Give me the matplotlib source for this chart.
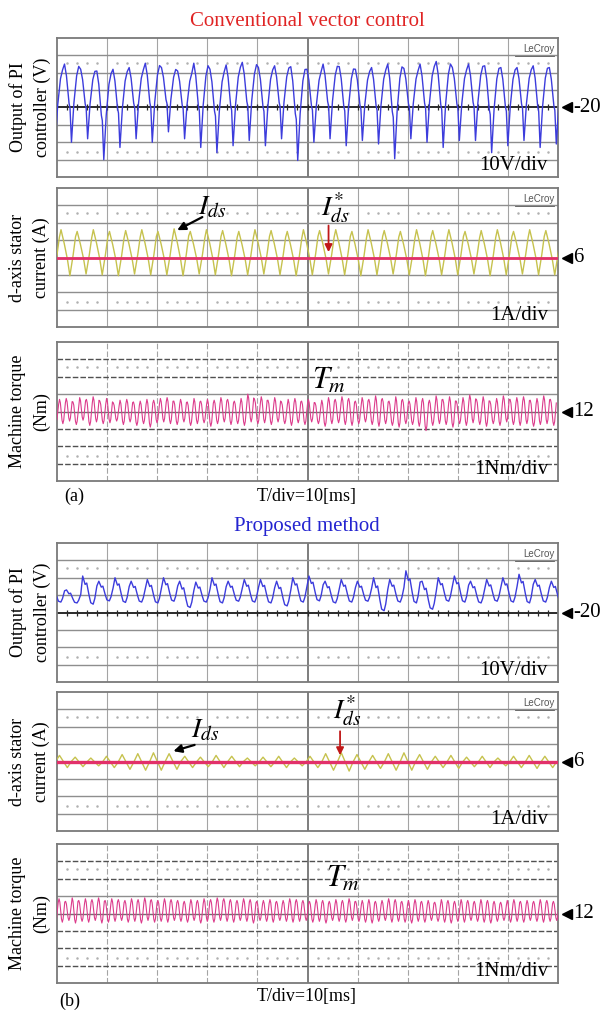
import numpy as np
import matplotlib.pyplot as plt

plt.rcParams['font.family'] = ['Liberation Serif', 'DejaVu Serif']
plt.rcParams['mathtext.fontset'] = 'stix'

# ---- data, in scope divisions (first entry of each list is the cycle just before the screen) ----
# (a) conventional vector control
pi_conv_peak = [2.3, 2.5, 2.2, 2.1, 2.2, 2.3, 2.55, 2.3, 2.1, 2.55, 2.2, 2.45, 2.6, 2.3, 2.4, 2.35,
                2.2, 2.5, 2.35, 2.2, 2.3, 2.5, 2.25, 2.5, 2.65, 2.3, 2.5, 2.4, 2.3, 2.3, 2.4, 2.3]
pi_conv_trough = [-2.0, -2.0, -1.8, -3.0, -2.3, -1.8, -2.0, -1.4, -1.8, -2.3, -2.6, -2.2, -1.9, -2.2, -1.8, -3.05,
                  -2.0, -1.8, -2.2, -1.9, -2.1, -2.95, -1.8, -2.0, -2.3, -1.9, -1.9, -2.6, -2.2, -1.9, -2.3, -2.1]
ids_conv_peak = [1.55, 1.6, 1.5, 1.6, 1.5, 1.55, 1.6, 1.5, 1.65, 1.5, 1.6, 1.55, 1.5, 1.6, 1.55, 1.5,
                 1.6, 1.55, 1.6, 1.5, 1.6, 1.55, 1.5, 1.6, 1.55, 1.6, 1.5, 1.55, 1.6, 1.5, 1.6, 1.55]
ids_conv_trough = [-1.0, -1.05, -0.95, -1.0, -1.05, -0.95, -1.0, -1.0, -1.05, -0.95, -1.0, -1.05, -1.0, -0.95, -1.0, -1.05,
                   -1.0, -0.95, -1.0, -1.05, -1.0, -0.95, -1.0, -1.05, -1.0, -1.0, -0.95, -1.05, -1.0, -0.95, -1.0, -1.0]
tm_conv_peak = [0.6, 0.7, 0.75, 0.55, 0.8, 0.7, 0.85, 0.6, 0.75, 0.5, 0.65, 0.7, 0.55, 0.6, 0.7, 0.65,
                0.75, 0.8, 0.6, 0.7, 0.55, 0.75, 0.6, 0.7, 0.65, 0.8, 0.7, 0.6, 0.75, 1.0, 0.7, 0.85,
                0.65, 0.8, 0.55, 0.7, 0.75, 0.6, 0.7, 0.5, 0.65, 0.8, 0.7, 0.85, 0.75, 0.6, 0.8, 0.7,
                0.9, 0.75, 0.6, 0.85, 0.7, 0.6, 0.8, 0.75, 0.65, 0.9, 0.7, 0.85, 0.6, 0.8, 0.95, 0.7,
                0.85, 0.6, 0.75, 0.9, 0.7, 0.8, 0.85, 0.65, 0.75, 0.9, 0.7]
tm_conv_trough = [-0.6, -0.7, -0.55, -0.75, -0.5, -0.8, -0.6, -0.7, -0.65, -0.55, -0.75, -0.6, -0.8, -0.7, -0.9, -0.65,
                  -0.6, -0.7, -0.75, -0.6, -0.8, -0.7, -0.65, -0.85, -0.7, -0.6, -0.75, -0.7, -0.8, -0.6, -0.7, -0.65,
                  -0.75, -0.6, -0.7, -0.8, -0.65, -0.75, -0.6, -0.7, -0.85, -0.7, -0.65, -0.75, -0.8, -0.7, -0.6, -0.75,
                  -0.85, -0.7, -0.8, -0.9, -0.7, -0.75, -0.85, -1.1, -0.8, -0.7, -0.75, -0.9, -0.7, -0.8, -0.65, -0.75,
                  -0.85, -0.7, -0.8, -0.6, -0.75, -0.8, -0.7, -0.85, -0.75, -0.7, -0.8]

# (b) proposed method
pi_prop_peak = [1.6, 1.3, 2.1, 1.8, 2.0, 1.8, 1.9, 2.0, 1.8, 1.75, 2.0, 1.8, 1.9, 1.9, 1.8, 2.0,
                2.1, 1.8, 1.9, 1.8, 2.0, 1.9, 2.4, 1.8, 2.0, 2.1, 1.8, 1.9, 2.0, 2.2, 1.9, 1.8]
pi_prop_trough = [0.6, 0.55, 0.48, 0.67, 0.58, 0.6, 0.55, 0.65, 0.29, 0.6, 0.55, 0.65, 0.6, 0.55, 0.38, 0.6,
                  0.67, 0.55, 0.6, 0.65, 0.1, 0.6, 0.55, 0.19, 0.65, 0.6, 0.55, 0.65, 0.6, 0.55, 0.6, 0.6]
ids_prop_peak = [0.3, 0.35, 0.25, 0.2, 0.3, 0.4, 0.45, 0.5, 0.45, 0.3, 0.25, 0.35, 0.3, 0.2, 0.25, 0.3,
                 0.2, 0.3, 0.45, 0.5, 0.4, 0.35, 0.45, 0.5, 0.4, 0.3, 0.35, 0.25, 0.3, 0.2, 0.3, 0.35, 0.3]
ids_prop_trough = [-0.3, -0.35, -0.3, -0.25, -0.35, -0.45, -0.5, -0.5, -0.45, -0.35, -0.3, -0.35, -0.3, -0.25, -0.3, -0.35,
                   -0.25, -0.35, -0.5, -0.55, -0.45, -0.4, -0.5, -0.5, -0.45, -0.35, -0.4, -0.3, -0.35, -0.25, -0.35, -0.4, -0.35]
tm_prop_peak = [0.8, 0.85, 0.7, 0.9, 0.75, 0.85, 0.8, 0.9, 0.75, 0.85, 0.8, 0.75, 0.85, 0.8, 0.9, 0.8,
                0.75, 0.85, 0.8, 0.75, 0.7, 0.8, 0.75, 0.85, 0.8, 0.9, 0.85, 0.8, 0.75, 0.85, 0.8, 0.7,
                0.75, 0.8, 0.7, 0.75, 0.85, 0.8, 0.75, 0.7, 0.8, 0.75, 0.7, 0.8, 0.75, 0.85, 0.7, 0.75,
                0.8, 0.7, 0.75, 0.85, 0.8, 0.7, 0.75, 0.8, 0.7, 0.75, 0.65, 0.8, 0.75, 0.7, 0.8, 0.75,
                0.7, 0.8, 0.75, 0.7, 0.65, 0.75, 0.8, 0.7, 0.75, 0.7, 0.8, 0.75, 0.7]
tm_prop_trough = [-0.45, -0.5, -0.4, -0.55, -0.45, -0.5, -0.4, -0.55, -0.5, -0.45, -0.4, -0.5, -0.45, -0.55, -0.4, -0.5,
                  -0.45, -0.5, -0.4, -0.45, -0.5, -0.4, -0.55, -0.45, -0.5, -0.4, -0.45, -0.5, -0.4, -0.45, -0.55, -0.4,
                  -0.45, -0.5, -0.4, -0.45, -0.5, -0.45, -0.4, -0.5, -0.45, -0.55, -0.4, -0.45, -0.5, -0.4, -0.45, -0.5,
                  -0.55, -0.45, -0.4, -0.5, -0.45, -0.5, -0.55, -0.45, -0.5, -0.4, -0.45, -0.5, -0.55, -0.45, -0.5, -0.4,
                  -0.45, -0.5, -0.55, -0.45, -0.4, -0.5, -0.45, -0.5, -0.4, -0.45, -0.5, -0.45, -0.4]

# cycle shapes: (phase after peak, fraction between trough and peak)
pi_conv_shape = ([0.0, 0.12, 0.28, 0.34, 0.43, 0.58, 0.75, 0.88], [1.0, 0.85, 0.5, 0.44, 0.0, 0.5, 0.85, 0.97])
ids_shape = ([0.0, 0.2, 0.4, 0.55, 0.75, 0.9], [1.0, 0.7, 0.35, 0.0, 0.45, 0.85])
torque_shape = ([0.0, 0.125, 0.25, 0.375, 0.5, 0.625, 0.75, 0.875], [1.0, 0.86, 0.5, 0.14, 0.0, 0.14, 0.5, 0.86])
pi_prop_shape = ([0.0, 0.15, 0.25, 0.4, 0.5, 0.65, 0.75, 0.88], [1.0, 0.7, 0.75, 0.3, 0.05, 0.0, 0.2, 0.65])
ids_prop_shape = ([0.0, 0.25, 0.5, 0.75], [1.0, 0.5, 0.0, 0.5])

BLUE = '#3c3cdc'
YELLOW = '#c6c24e'
RED_REF = '#e2306a'
MAGENTA = '#dc3c8c'


def trace(peaks, troughs, t0, period, shape):
    t, v = [], []
    for i, (hi, lo) in enumerate(zip(peaks, troughs)):
        start = t0 + (i - 1) * period
        for p, f in zip(*shape):
            t.append(start + p * period)
            v.append(lo + f * (hi - lo))
    return np.array(t), np.array(v)


def scope(ax, kind, marker_text, scale_text, lecroy=True):
    ax.set_xlim(0, 10)
    ax.set_ylim(-4, 4)
    ax.set_xticks([])
    ax.set_yticks([])
    for s in ax.spines.values():
        s.set_color('#7a7a7a')
        s.set_linewidth(1.3)
    vstyle = (0, (5, 2)) if kind == 'tm' else '-'
    for x in range(1, 10):
        if x == 5:
            ax.axvline(x, color='#5a5a5a', lw=1.1, zorder=1)
        else:
            ax.axvline(x, color='#a4a4a4', lw=0.8, ls=vstyle, zorder=1)
    for y in [-3, -2, -1, 1, 2, 3]:
        if kind == 'tm' and y != 1:
            ax.axhline(y, color='#505050', lw=1.0, ls=(0, (4, 1.5)), zorder=1)
        else:
            ax.axhline(y, color='#8e8e8e', lw=1.0, zorder=1)
    if kind == 'pi':
        ax.axhline(0, color='#2a2a2a', lw=1.4, zorder=1)
        ticks = np.arange(0.2, 10, 0.2)
        ax.plot(ticks, np.zeros_like(ticks), ls='none', marker='|', ms=4, mew=0.9, color='#2a2a2a', zorder=1)
    else:
        ax.axhline(0, color='#707070', lw=1.0, zorder=1)
    dots = np.array([x + d for x in range(10) for d in (0.2, 0.4, 0.6, 0.8)])
    for y in (2.55, -2.55):
        ax.plot(dots, np.full_like(dots, y), ls='none', marker='.', ms=1.6, color='#b0b0b0', zorder=1)
    ax.plot([10.18], [0], marker='<', ms=7, color='black', clip_on=False)
    ax.text(10.3, 0, marker_text, fontsize=15, va='center', ha='left', clip_on=False)
    ax.text(9.8, -3.35, scale_text, fontsize=15, va='center', ha='right', zorder=5)
    if lecroy:
        ax.text(9.93, 3.35, 'LeCroy', family='Liberation Sans', fontsize=7, color='#555555',
                va='center', ha='right', zorder=5)
        ax.plot([9.15, 9.93], [2.95, 2.95], color='#555555', lw=0.6, zorder=5)


fig = plt.figure(figsize=(6.03, 10.10), dpi=100)
L, W = 57 / 603, 501 / 603
tops = [38, 188, 342, 543, 692, 844]
axs = [fig.add_axes([L, 1 - (t + 139) / 1010, W, 139 / 1010]) for t in tops]

labels = ['Output of PI\ncontroller (V)', 'd-axis stator\ncurrent (A)', 'Machine torque\n(Nm)'] * 2
for ax, lab in zip(axs, labels):
    ax.text(-0.054, 0.5, lab, transform=ax.transAxes, rotation=90, fontsize=13,
            ha='center', va='center', linespacing=1.5)

# (a) conventional vector control
ax = axs[0]
scope(ax, 'pi', '-20', '10V/div')
t, v = trace(pi_conv_peak, pi_conv_trough, 0.15, 10 / 31, pi_conv_shape)
ax.plot(t, v, color=BLUE, lw=1.0, zorder=3)

ax = axs[1]
scope(ax, 'ids', '6', '1A/div')
t, v = trace(ids_conv_peak, ids_conv_trough, 0.08, 10 / 31, ids_shape)
ax.plot(t, v, color=YELLOW, lw=1.0, zorder=3)
ax.axhline(0, color=RED_REF, lw=2.0, zorder=4)
ax.text(3.1, 2.85, r'$I_{ds}$', fontsize=20, ha='center', va='center')
ax.annotate('', xy=(2.35, 1.5), xytext=(2.95, 2.4),
            arrowprops=dict(arrowstyle='-|>', color='black', lw=1.6, mutation_scale=12))
ax.text(5.55, 2.85, r'$I_{ds}^{*}$', fontsize=20, ha='center', va='center')
ax.annotate('', xy=(5.42, 0.15), xytext=(5.42, 2.0),
            arrowprops=dict(arrowstyle='-|>', color='#c01818', lw=1.3, mutation_scale=11))

ax = axs[2]
scope(ax, 'tm', '12', '1Nm/div', lecroy=False)
t, v = trace(tm_conv_peak, tm_conv_trough, 0.05, 10 / 74.5, torque_shape)
ax.plot(t, v, color=MAGENTA, lw=0.8, zorder=3)
ax.text(5.42, 1.75, r'$T_m$', fontsize=22, ha='center', va='center')

# (b) proposed method
ax = axs[3]
scope(ax, 'pi', '-20', '10V/div')
t, v = trace(pi_prop_peak, pi_prop_trough, 0.19, 10 / 31, pi_prop_shape)
ax.plot(t, v, color=BLUE, lw=1.0, zorder=3)

ax = axs[4]
scope(ax, 'ids', '6', '1A/div')
t, v = trace(ids_prop_peak, ids_prop_trough, 0.05, 10 / 32, ids_prop_shape)
ax.plot(t, v, color=YELLOW, lw=1.0, zorder=3)
ax.axhline(0, color=RED_REF, lw=2.4, zorder=4)
ax.text(2.96, 1.8, r'$I_{ds}$', fontsize=20, ha='center', va='center')
ax.annotate('', xy=(2.27, 0.55), xytext=(2.8, 1.0),
            arrowprops=dict(arrowstyle='-|>', color='black', lw=1.6, mutation_scale=12))
ax.text(5.8, 2.9, r'$I_{ds}^{*}$', fontsize=20, ha='center', va='center')
ax.annotate('', xy=(5.65, 0.2), xytext=(5.65, 1.9),
            arrowprops=dict(arrowstyle='-|>', color='#c01818', lw=1.3, mutation_scale=11))

ax = axs[5]
scope(ax, 'tm', '12', '1Nm/div', lecroy=False)
t, v = trace(tm_prop_peak, tm_prop_trough, 0.04, 10 / 76, torque_shape)
ax.plot(t, v, color=MAGENTA, lw=0.8, zorder=3)
ax.text(5.7, 1.95, r'$T_m$', fontsize=22, ha='center', va='center')

fig.text(307 / 603, 1 - 21 / 1010, 'Conventional vector control', color='#e02424', fontsize=15,
         ha='center', va='center')
fig.text(307 / 603, 1 - 526 / 1010, 'Proposed method', color='#2424d0', fontsize=15,
         ha='center', va='center')
fig.text(74 / 603, 1 - 496 / 1010, '(a)', fontsize=13, ha='center', va='center')
fig.text(307 / 603, 1 - 496 / 1010, 'T/div=10[ms]', fontsize=13, ha='center', va='center')
fig.text(70 / 603, 1 - 1001 / 1010, '(b)', fontsize=13, ha='center', va='center')
fig.text(307 / 603, 1 - 996 / 1010, 'T/div=10[ms]', fontsize=13, ha='center', va='center')

fig.savefig('out.png', dpi=100)
